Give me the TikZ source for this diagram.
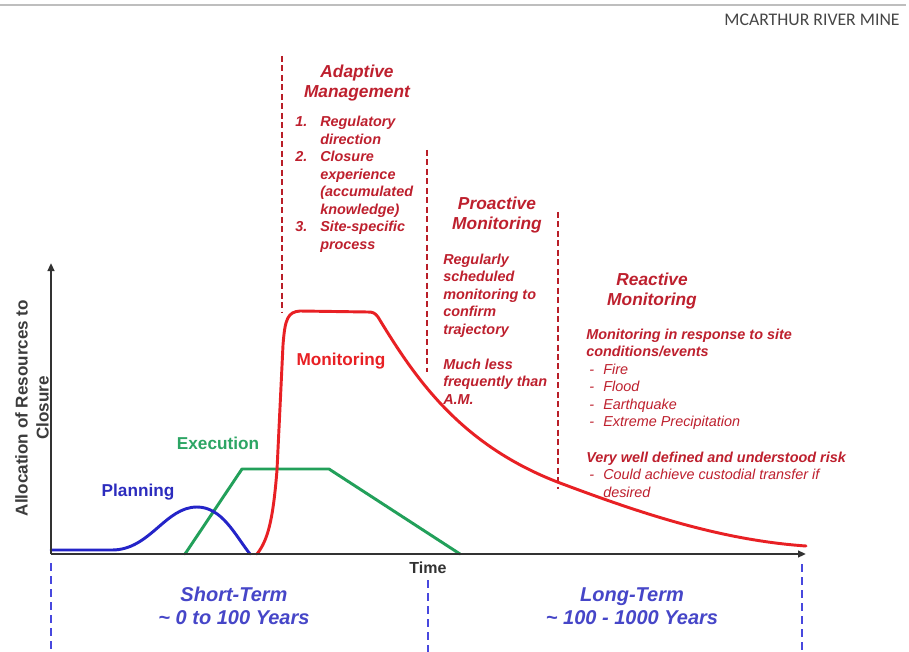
\documentclass[tikz,border=0pt]{standalone}
\usepackage{fontspec}
\setmainfont{Liberation Sans}
\newfontfamily\carlitofont{Carlito}
\usetikzlibrary{arrows.meta}
\definecolor{txtred}{RGB}{190,32,46}
\definecolor{dashred}{RGB}{185,30,40}
\definecolor{curvered}{RGB}{232,32,36}
\definecolor{curveblue}{RGB}{36,36,200}
\definecolor{planblue}{RGB}{44,44,190}
\definecolor{curvegreen}{RGB}{34,160,90}
\definecolor{execgreen}{RGB}{44,165,100}
\definecolor{termblue}{RGB}{70,70,200}
\definecolor{dashblue}{RGB}{72,72,222}
\definecolor{axisgray}{RGB}{50,50,50}
\definecolor{labelgray}{RGB}{60,60,60}
\tikzset{
  heading/.style={inner sep=0pt, anchor=north, align=center, text=txtred,
    font=\fontsize{13}{15}\selectfont\bfseries\itshape},
  bodytext/.style={inner sep=0pt, anchor=north west, align=left, text=txtred,
    font=\fontsize{10.8}{13.1}\selectfont\bfseries\itshape},
  curvelabel/.style={inner sep=0pt, font=\fontsize{12.9}{15}\selectfont\bfseries},
  termlabel/.style={inner sep=0pt, anchor=north, align=center, text=termblue,
    font=\fontsize{15}{17.25}\selectfont\bfseries\itshape},
  reddash/.style={draw=dashred, line width=1.7pt, dash pattern=on 4.5pt off 2.6pt},
  bluedash/.style={draw=dashblue, line width=1.7pt, dash pattern=on 6pt off 3.8pt},
  axisline/.style={draw=axisgray, line width=1.5pt, -{Triangle[length=6pt,width=5pt]}},
  curve/.style={line width=2.2pt, line join=round, line cap=round}
}
\begin{document}
\begin{tikzpicture}[x=0.75pt, y=-0.75pt]
\useasboundingbox (0,0) rectangle (909,652);
\fill[white] (0,0) rectangle (909,652);

% header
\coordinate (hl) at (0,5);
\coordinate (hr) at (906,5);
\draw[draw={rgb,255:red,190;green,190;blue,190}, line width=1.6pt] (hl) -- (hr);
\node[inner sep=0pt, text={rgb,255:red,70;green,70;blue,70}, font=\carlitofont\fontsize{13.3}{15}\selectfont] (mine) at (812,20) {MCARTHUR RIVER MINE};

% dashed dividers (red)
\coordinate (r1t) at (282,56);  \coordinate (r1b) at (282,313);
\coordinate (r2t) at (427,150); \coordinate (r2b) at (427,372);
\coordinate (r3t) at (558,212); \coordinate (r3b) at (558,489);
\draw[reddash] (r1t) -- (r1b);
\draw[reddash] (r2t) -- (r2b);
\draw[reddash] (r3t) -- (r3b);

% dashed dividers (blue)
\coordinate (b1t) at (51,563);  \coordinate (b1b) at (51,652);
\coordinate (b2t) at (428,580); \coordinate (b2b) at (428,652);
\coordinate (b3t) at (802,564); \coordinate (b3b) at (802,652);
\draw[bluedash] (b1t) -- (b1b);
\draw[bluedash] (b2t) -- (b2b);
\draw[bluedash] (b3t) -- (b3b);

% axes
\coordinate (O) at (51,554);
\coordinate (ytop) at (51,263);
\coordinate (xend) at (806,554);

% curves
\draw[curve, curvegreen] (185,554) -- (242,469) -- (329,469) -- (460,554);
\draw[curve, curveblue] (51,550) -- (112,550) .. controls (150,550) and (165,507) .. (197,507)
  .. controls (222,507) and (235,535) .. (250,554);
\draw[curve, curvered] (257,554) .. controls (268,540) and (273,520) .. (277,470) -- (283,345)
  .. controls (285,318) and (288,312) .. (300,311) -- (368,312)
  .. controls (373,312) and (375,313) .. (378,317)
  .. controls (415,378) and (460,445) .. (560,483)
  .. controls (640,513) and (720,540) .. (806,546);

\draw[axisline] (O) -- (ytop);
\draw[axisline] (O) -- (xend);

% axis labels
\node[inner sep=0pt, rotate=90, align=center, text=labelgray,
  font=\fontsize{12.8}{15.75}\selectfont\bfseries] (ylab) at (32,408)
  {Allocation of Resources to\\Closure};
\node[inner sep=0pt, text=axisgray, font=\fontsize{12}{14}\selectfont\bfseries] (time) at (428,568) {Time};

% curve labels
\node[curvelabel, text=planblue] (planning) at (138,492) {Planning};
\node[curvelabel, text=execgreen] (execution) at (218,443) {Execution};
\node[curvelabel, text=curvered] (monitoring) at (341,361) {Monitoring};

% headings
\node[heading] (adaptive) at (357,63) {\strut Adaptive\\Management};
\node[heading] (proactive) at (497,195) {\strut Proactive\\Monitoring};
\node[heading] (reactive) at (652,271) {\strut Reactive\\Monitoring};

% adaptive list
\node[bodytext] (amlist) at (295,114.3) {\strut\makebox[18.75pt][l]{1.}Regulatory\\
\hspace*{18.75pt}direction\\
\makebox[18.75pt][l]{2.}Closure\\
\hspace*{18.75pt}experience\\
\hspace*{18.75pt}(accumulated\\
\hspace*{18.75pt}knowledge)\\
\makebox[18.75pt][l]{3.}Site-specific\\
\hspace*{18.75pt}process};

% proactive text
\node[bodytext] (pmtext) at (443,251.8) {\strut Regularly\\scheduled\\monitoring to\\confirm\\trajectory};
\node[bodytext] (pmless) at (443,356.8) {\strut Much less\\frequently than\\A.M.};

% reactive text
\node[bodytext] (rmtext) at (586,326.8) {\strut Monitoring in response to site\\conditions/events\\
{\mdseries\makebox[12.75pt][l]{\hspace*{2.25pt}-}Fire}\\
{\mdseries\makebox[12.75pt][l]{\hspace*{2.25pt}-}Flood}\\
{\mdseries\makebox[12.75pt][l]{\hspace*{2.25pt}-}Earthquake}\\
{\mdseries\makebox[12.75pt][l]{\hspace*{2.25pt}-}Extreme Precipitation}};
\node[bodytext] (rmrisk) at (586,449.8) {\strut Very well defined and understood risk\\
{\mdseries\makebox[12.75pt][l]{\hspace*{2.25pt}-}Could achieve custodial transfer if}\\
{\mdseries\hspace*{12.75pt}desired}};

% term labels
\node[termlabel] (short) at (234,585) {\strut Short-Term\\\textasciitilde{} 0 to 100 Years};
\node[termlabel] (long) at (632,585) {\strut Long-Term\\\textasciitilde{} 100 - 1000 Years};
\end{tikzpicture}
\end{document}
